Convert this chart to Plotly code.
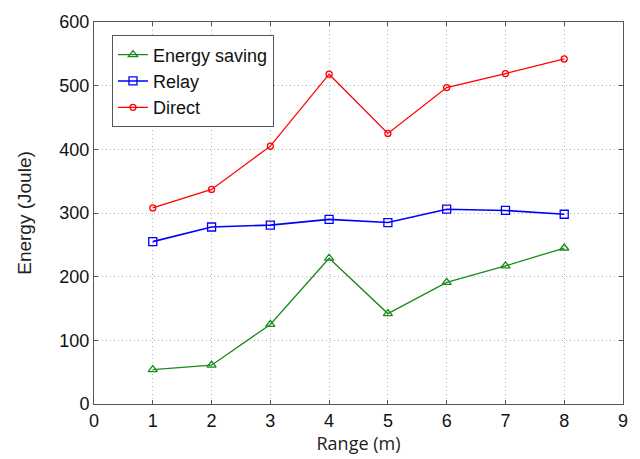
import plotly.graph_objects as go

x_range = [1, 2, 3, 4, 5, 6, 7, 8]
energy_saving = [54, 61, 125, 229, 142, 191, 217, 245]
relay = [255, 278, 281, 290, 285, 306, 304, 298]
direct = [308, 337, 405, 518, 425, 497, 519, 542]
x_ticks = [0, 1, 2, 3, 4, 5, 6, 7, 8, 9]
y_ticks = [0, 100, 200, 300, 400, 500, 600]

fig = go.Figure()
fig.add_trace(go.Scatter(x=x_range, y=energy_saving, name="Energy saving", mode="lines+markers",
                         line=dict(color="#1a8a1a", width=1.3),
                         marker=dict(symbol="triangle-up-open", size=8, color="#1a8a1a", line=dict(width=1.3))))
fig.add_trace(go.Scatter(x=x_range, y=relay, name="Relay", mode="lines+markers",
                         line=dict(color="#0000ff", width=1.6),
                         marker=dict(symbol="square-open", size=8, color="#0000ff", line=dict(width=1.3))))
fig.add_trace(go.Scatter(x=x_range, y=direct, name="Direct", mode="lines+markers",
                         line=dict(color="#ff0000", width=1.3),
                         marker=dict(symbol="circle-open", size=6, color="#ff0000", line=dict(width=1.3))))

axis_common = dict(showline=True, linecolor="#555555", linewidth=1, mirror="ticks",
                   ticks="inside", ticklen=4, tickcolor="#555555",
                   showgrid=True, gridcolor="#b5b5b5", griddash="1px,3px", gridwidth=1,
                   zeroline=False, tickfont=dict(family="Liberation Sans, Arial", size=18, color="#111111"))

fig.update_layout(
    width=640, height=459,
    margin=dict(l=94, r=13, t=21, b=54),
    paper_bgcolor="white", plot_bgcolor="white",
    showlegend=True,
    legend=dict(x=0.034, y=0.965, xanchor="left", yanchor="top",
                bordercolor="#555555", borderwidth=1, bgcolor="white",
                font=dict(family="Liberation Sans, Arial", size=18, color="#111111"),
                tracegroupgap=0, itemwidth=30),
    xaxis=dict(range=[0, 9], tickvals=x_ticks, title=dict(text="Range (m)", standoff=4,
               font=dict(family="Open Sans, Liberation Sans", size=18, color="#222222")), **axis_common),
    yaxis=dict(range=[0, 600], tickvals=y_ticks, title=dict(text="Energy (Joule)", standoff=22,
               font=dict(family="Liberation Sans, Arial", size=19, color="#222222")), **axis_common),
)

fig.write_html("out.html")
